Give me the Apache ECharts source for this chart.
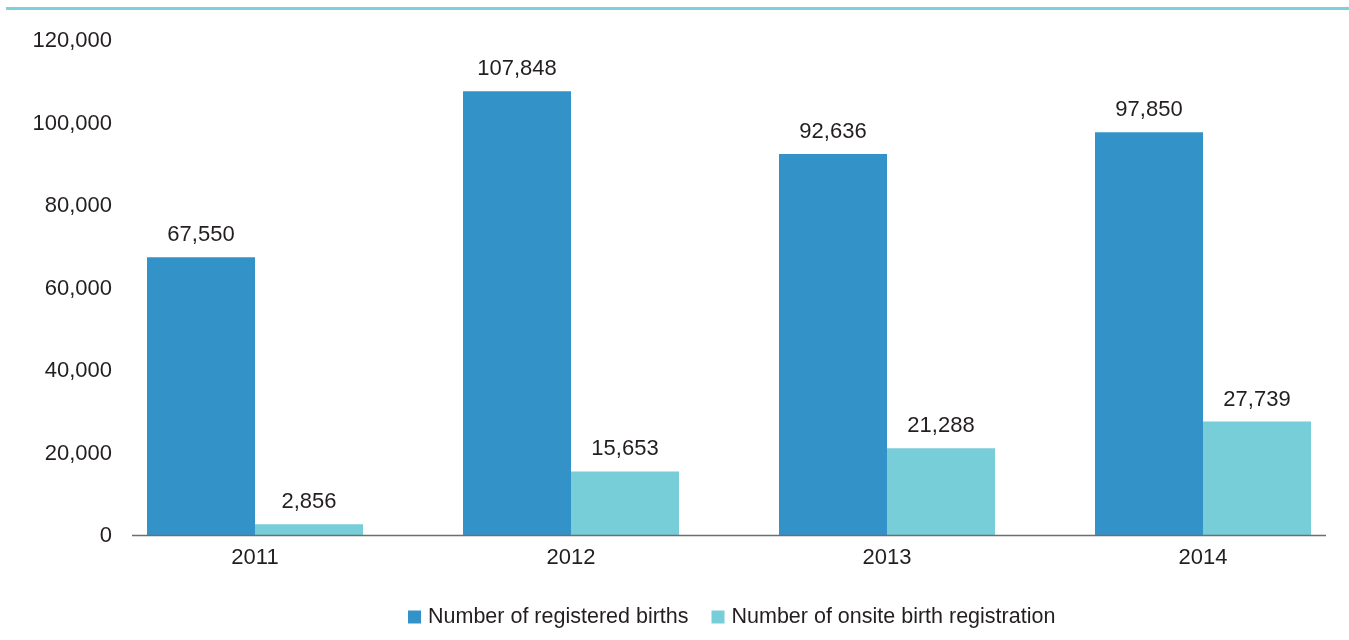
<!DOCTYPE html>
<html>
<head>
<meta charset="utf-8">
<script src="https://cdn.jsdelivr.net/npm/echarts@6/dist/echarts.min.js"></script>
<style>
	html, body { margin: 0; padding: 0; background: #fff; }
	#chartDiv { width: 1349px; height: 640px; }
</style>
</head>
<body>
<div id="chartDiv"></div>
<script>
var years = ['2011', '2012', '2013', '2014'];
var registeredBirths = [67550, 107848, 92636, 97850];
var onsiteRegistration = [2856, 15653, 21288, 27739];
var seriesNames = ['Number of registered births', 'Number of onsite birth registration'];

var fontName = '"Liberation Sans Narrow", "Arial Narrow", "Liberation Sans", sans-serif';
var textColor = '#231f20';
var fontSize = 22;

function fmt(v) {
	return String(v).replace(/\B(?=(\d{3})+(?!\d))/g, ',');
}

var dom = document.getElementById('chartDiv');
var chart = echarts.init(dom);

var option = {
	animation: false,
	textStyle: { fontFamily: fontName },
	grid: {
		left: 97,
		right: -12,
		top: 41,
		bottom: 104,
		outerBoundsMode: 'none',
		containLabel: false
	},
	legend: {
		left: 408,
		top: 606,
		padding: 0,
		itemWidth: 13,
		itemHeight: 13,
		itemGap: 23,
		icon: 'rect',
		textStyle: {
			color: textColor,
			fontSize: 21.5,
			fontFamily: fontName,
			padding: [0, 0, 0, 2]
		},
		data: seriesNames
	},
	xAxis: {
		type: 'category',
		data: years,
		axisLine: { show: false },
		axisTick: { show: false },
		axisLabel: {
			color: textColor,
			fontSize: fontSize,
			fontFamily: fontName,
			margin: 11
		}
	},
	yAxis: {
		type: 'value',
		min: 0,
		max: 120000,
		interval: 20000,
		splitLine: { show: false },
		axisLine: { show: false },
		axisTick: { show: false },
		axisLabel: {
			color: textColor,
			fontSize: fontSize,
			fontFamily: fontName,
			margin: -15,
			formatter: fmt
		}
	},
	series: [
		{
			name: seriesNames[0],
			type: 'bar',
			data: registeredBirths,
			barWidth: 108,
			barGap: '0%',
			itemStyle: { color: '#3393c8' },
			label: {
				show: true,
				position: 'top',
				distance: 11,
				color: textColor,
				fontSize: fontSize,
				fontFamily: fontName,
				formatter: function (p) { return fmt(p.value); }
			}
		},
		{
			name: seriesNames[1],
			type: 'bar',
			data: onsiteRegistration,
			barWidth: 108,
			barGap: '0%',
			itemStyle: { color: '#77ced8' },
			label: {
				show: true,
				position: 'top',
				distance: 11,
				color: textColor,
				fontSize: fontSize,
				fontFamily: fontName,
				formatter: function (p) { return fmt(p.value); }
			}
		}
	],
	graphic: [
		{
			type: 'line',
			shape: { x1: 6, y1: 8.5, x2: 1349, y2: 8.5 },
			style: { stroke: '#7fd1d9', lineWidth: 3 }
		},
		{
			type: 'line',
			z: 10,
			shape: { x1: 132, y1: 535.5, x2: 1326, y2: 535.5 },
			style: { stroke: '#6d6e71', lineWidth: 1.5 }
		}
	]
};

chart.setOption(option, true);
</script>
</body>
</html>
